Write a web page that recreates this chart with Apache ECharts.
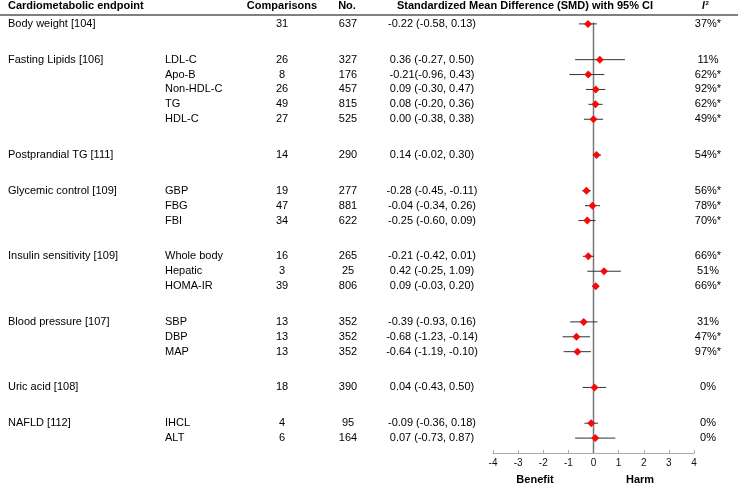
<!DOCTYPE html>
<html>
<head>
<meta charset="utf-8">
<title>Cardiometabolic endpoints forest plot</title>
<script src="https://cdn.jsdelivr.net/npm/echarts@6/dist/echarts.min.js"></script>
<style>
  html, body { margin: 0; padding: 0; background: #fff; }
  #chart { width: 738px; height: 485px; }
</style>
</head>
<body>
<div id="chart"></div>
<script>
// rows of the table, top to bottom
var groups = ['Body weight [104]', 'Fasting Lipids [106]', 'Postprandial TG [111]', 'Glycemic control [109]',
  'Insulin sensitivity [109]', 'Blood pressure [107]', 'Uric acid [108]', 'NAFLD [112]'];
var rowGroup = [0, 1, 1, 1, 1, 1, 2, 3, 3, 3, 4, 4, 4, 5, 5, 5, 6, 7, 7];
var subLabels = ['', 'LDL-C', 'Apo-B', 'Non-HDL-C', 'TG', 'HDL-C', '', 'GBP', 'FBG', 'FBI',
  'Whole body', 'Hepatic', 'HOMA-IR', 'SBP', 'DBP', 'MAP', '', 'IHCL', 'ALT'];
var comparisons = [31, 26, 8, 26, 49, 27, 14, 19, 47, 34, 16, 3, 39, 13, 13, 13, 18, 4, 6];
var participants = [637, 327, 176, 457, 815, 525, 290, 277, 881, 622, 265, 25, 806, 352, 352, 352, 390, 95, 164];
var smdText = ['-0.22 (-0.58, 0.13)', '0.36 (-0.27, 0.50)', '-0.21(-0.96, 0.43)', '0.09 (-0.30, 0.47)',
  '0.08 (-0.20, 0.36)', '0.00 (-0.38, 0.38)', '0.14 (-0.02, 0.30)', '-0.28 (-0.45, -0.11)',
  '-0.04 (-0.34, 0.26)', '-0.25 (-0.60, 0.09)', '-0.21 (-0.42, 0.01)', '0.42 (-0.25, 1.09)',
  '0.09 (-0.03, 0.20)', '-0.39 (-0.93, 0.16)', '-0.68 (-1.23, -0.14)', '-0.64 (-1.19, -0.10)',
  '0.04 (-0.43, 0.50)', '-0.09 (-0.36, 0.18)', '0.07 (-0.73, 0.87)'];
var i2Text = ['37%*', '11%', '62%*', '92%*', '62%*', '49%*', '54%*', '56%*', '78%*', '70%*',
  '66%*', '51%', '66%*', '31%', '47%*', '97%*', '0%', '0%', '0%'];
// plotted estimates (as drawn in the figure)
var smd = [-0.22, 0.25, -0.21, 0.09, 0.08, 0.00, 0.12, -0.28, -0.04, -0.25, -0.21, 0.42, 0.09, -0.39, -0.68, -0.64, 0.04, -0.09, 0.07];
var ciLow = [-0.58, -0.73, -0.96, -0.30, -0.20, -0.38, -0.02, -0.45, -0.34, -0.60, -0.42, -0.25, -0.03, -0.93, -1.23, -1.19, -0.43, -0.36, -0.73];
var ciHigh = [0.13, 1.25, 0.43, 0.47, 0.36, 0.38, 0.30, -0.11, 0.26, 0.09, 0.01, 1.09, 0.20, 0.16, -0.14, -0.10, 0.50, 0.18, 0.87];
var xTicks = [-4, -3, -2, -1, 0, 1, 2, 3, 4];

var FONT = '"Liberation Sans", Arial, Helvetica, sans-serif';
var chart = echarts.init(document.getElementById('chart'));

// row position: one unit per row, extra space between groups
function rowY(i) {
  return i + rowGroup[i] * 1.4;
}

// column anchors of the table (pixels on the hidden text axis)
var COL_GROUP = 8, COL_SUB = 165, COL_CMP = 282, COL_N = 348, COL_SMD = 432, COL_I2 = 708;

function textSeries(x, align, getText) {
  var data = [];
  for (var i = 0; i < smd.length; i++) {
    var t = getText(i);
    if (t === '' || t === null) continue;
    data.push({ name: String(t), value: [x, rowY(i)] });
  }
  return {
    type: 'scatter',
    xAxisIndex: 1,
    yAxisIndex: 1,
    symbolSize: 0,
    silent: true,
    data: data,
    itemStyle: { opacity: 1 },
    label: {
      show: true,
      position: 'inside',
      align: align,
      verticalAlign: 'middle',
      formatter: '{b}',
      color: '#000',
      fontSize: 11,
      fontFamily: FONT
    }
  };
}

var ciData = smd.map(function(v, i) { return [ciLow[i], ciHigh[i], rowY(i)]; });
var pointData = smd.map(function(v, i) { return [v, rowY(i)]; });

var option = {
  animation: false,
  backgroundColor: '#fff',
  grid: [
    { left: 493, right: 44, top: 9, height: 444 },
    { left: 0, right: 0, top: 9, height: 444 }
  ],
  xAxis: [
    {
      type: 'value',
      gridIndex: 0,
      min: -4,
      max: 4,
      interval: 1,
      position: 'bottom',
      splitLine: { show: false },
      axisLine: { show: true, onZero: false, lineStyle: { color: '#aaa', width: 1 } },
      axisTick: { show: true, inside: true, length: 3, lineStyle: { color: '#aaa' } },
      axisLabel: {
        color: '#111', fontSize: 10, fontFamily: FONT, margin: 5,
        formatter: function(v) { return xTicks.indexOf(v) >= 0 ? String(v) : ''; }
      }
    },
    { type: 'value', gridIndex: 1, min: 0, max: 738, show: false }
  ],
  yAxis: [
    { type: 'value', gridIndex: 0, min: -1, max: 28.8, inverse: true, show: false },
    { type: 'value', gridIndex: 1, min: -1, max: 28.8, inverse: true, show: false }
  ],
  graphic: [
    { type: 'line', shape: { x1: 0, y1: 15, x2: 738, y2: 15 }, style: { stroke: '#808080', lineWidth: 2 } },
    { type: 'text', x: COL_GROUP, y: 6, style: { text: 'Cardiometabolic endpoint', font: 'bold 11px ' + FONT, fill: '#000', textVerticalAlign: 'middle' } },
    { type: 'text', x: COL_CMP, y: 6, style: { text: 'Comparisons', font: 'bold 11px ' + FONT, fill: '#000', textAlign: 'center', textVerticalAlign: 'middle' } },
    { type: 'text', x: COL_N - 1, y: 6, style: { text: 'No.', font: 'bold 11px ' + FONT, fill: '#000', textAlign: 'center', textVerticalAlign: 'middle' } },
    { type: 'text', x: 525, y: 6, style: { text: 'Standardized Mean Difference (SMD) with 95% CI', font: 'bold 11px ' + FONT, fill: '#000', textAlign: 'center', textVerticalAlign: 'middle' } },
    { type: 'text', x: 702, y: 6, style: { text: 'I', font: 'italic bold 10px ' + FONT, fill: '#000', textVerticalAlign: 'middle' } },
    { type: 'text', x: 705.5, y: 3, style: { text: '2', font: 'bold 6px ' + FONT, fill: '#000', textVerticalAlign: 'middle' } },
    { type: 'text', x: 535, y: 480, style: { text: 'Benefit', font: 'bold 11px ' + FONT, fill: '#000', textAlign: 'center', textVerticalAlign: 'middle' } },
    { type: 'text', x: 640, y: 480, style: { text: 'Harm', font: 'bold 11px ' + FONT, fill: '#000', textAlign: 'center', textVerticalAlign: 'middle' } }
  ],
  series: [
    // line of no effect
    {
      type: 'line',
      xAxisIndex: 0,
      yAxisIndex: 0,
      data: [[0, -0.1], [0, 28.8]],
      symbol: 'none',
      silent: true,
      lineStyle: { color: '#777', width: 1.5 },
      z: 1
    },
    // confidence intervals
    {
      type: 'custom',
      xAxisIndex: 0,
      yAxisIndex: 0,
      silent: true,
      data: ciData,
      z: 2,
      renderItem: function(params, api) {
        var p1 = api.coord([api.value(0), api.value(2)]);
        var p2 = api.coord([api.value(1), api.value(2)]);
        return {
          type: 'line',
          shape: { x1: p1[0], y1: p1[1], x2: p2[0], y2: p2[1] },
          style: { stroke: '#333', lineWidth: 1 }
        };
      }
    },
    // point estimates
    {
      type: 'scatter',
      xAxisIndex: 0,
      yAxisIndex: 0,
      data: pointData,
      symbol: 'diamond',
      symbolSize: 8,
      itemStyle: { color: '#f50a0a', opacity: 1 },
      z: 3
    },
    textSeries(COL_GROUP, 'left', function(i) {
      return (i === 0 || rowGroup[i] !== rowGroup[i - 1]) ? groups[rowGroup[i]] : '';
    }),
    textSeries(COL_SUB, 'left', function(i) { return subLabels[i]; }),
    textSeries(COL_CMP, 'center', function(i) { return comparisons[i]; }),
    textSeries(COL_N, 'center', function(i) { return participants[i]; }),
    textSeries(COL_SMD, 'center', function(i) { return smdText[i]; }),
    textSeries(COL_I2, 'center', function(i) { return i2Text[i]; })
  ]
};

chart.setOption(option);
</script>
</body>
</html>
